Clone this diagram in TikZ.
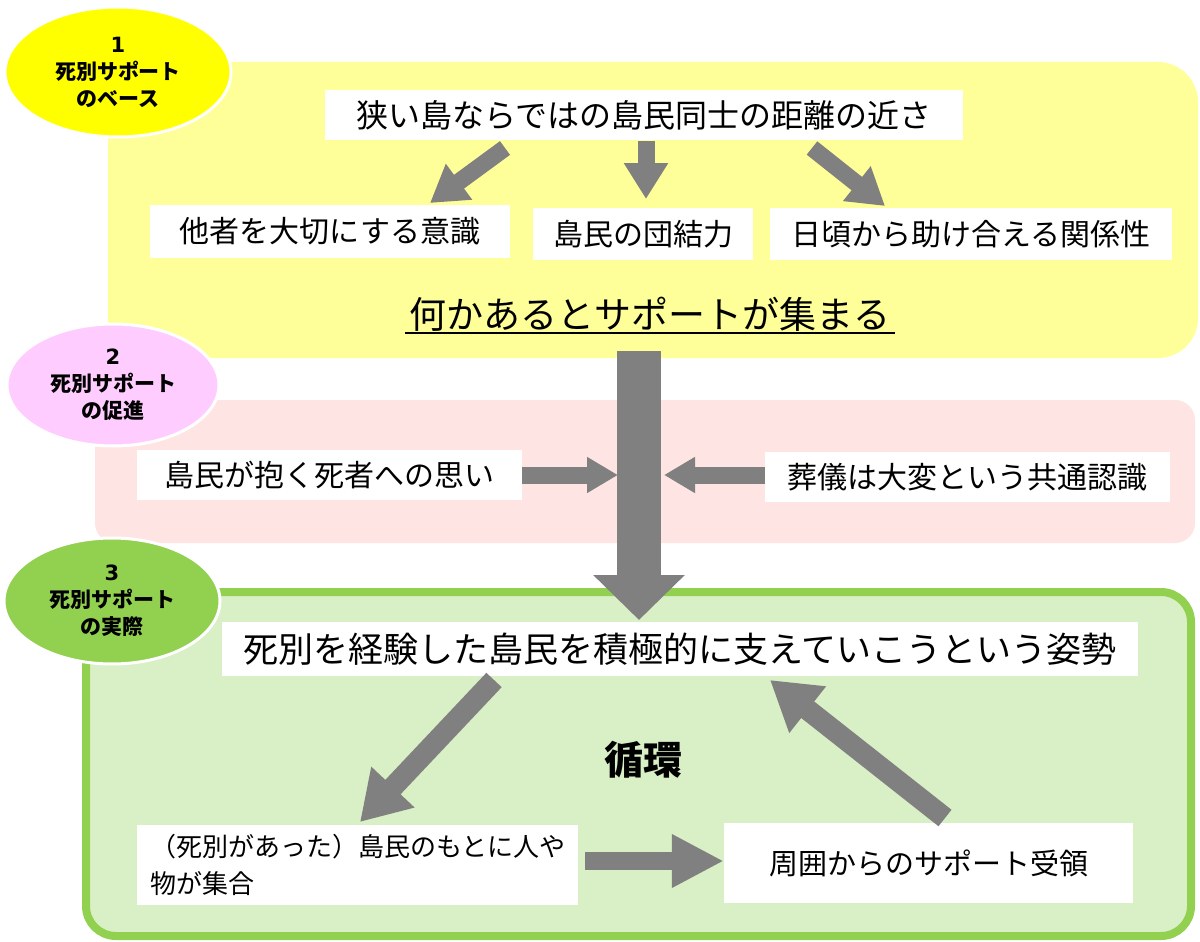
\documentclass[tikz,border=0pt]{standalone}
\usepackage{fontspec}
\setmainfont{Noto Sans CJK JP}
\newfontfamily\numfont{DejaVu Sans}
\usetikzlibrary{arrows.meta,shapes.geometric}
\definecolor{ybg}{HTML}{FFFF99}
\definecolor{yell}{HTML}{FFFF00}
\definecolor{pbg}{HTML}{FFE4E4}
\definecolor{pell}{HTML}{FFCCFF}
\definecolor{gbg}{HTML}{D9EFC6}
\definecolor{gline}{HTML}{92D050}
\definecolor{agray}{HTML}{808080}
\tikzset{
  wbox/.style={fill=white, draw=none, inner sep=0pt, align=center},
  tag/.style={ellipse, draw=white, line width=3pt, inner sep=0pt, align=center,
    font=\fontsize{21}{27}\selectfont\bfseries},
  garrow/.style={draw=agray, line width=17pt, -{Triangle[width=42pt,length=36pt]}},
  barrow/.style={draw=agray, line width=21pt, -{Triangle[width=56pt,length=48pt]}},
  harrow/.style={draw=agray, line width=17pt, -{Triangle[width=34pt,length=31pt]}},
}
\begin{document}
\begin{tikzpicture}[x=1pt,y=-1pt]
\useasboundingbox (0,0) rectangle (1200,942);
\fill[white] (0,0) rectangle (1200,942);
% panels
\fill[ybg, rounded corners=40pt] (108,62) rectangle (1198,358);
\fill[pbg, rounded corners=20pt] (95,400) rectangle (1195,543);
\draw[gline, fill=gbg, line width=8pt, rounded corners=30pt] (86,592) rectangle (1191,936);
% tags
\node[tag, fill=yell, minimum width=226pt, minimum height=130pt] (t1) at (118,72)
  {{\numfont\bfseries 1}\\死別サポート\\のベース};
\node[tag, fill=pell, minimum width=212pt, minimum height=122pt] (t2) at (113,385)
  {{\numfont\bfseries 2}\\死別サポート\\の促進};
\node[tag, fill=gline, minimum width=216pt, minimum height=126pt] (t3) at (112,601)
  {{\numfont\bfseries 3}\\死別サポート\\の実際};
% section 1
\node[wbox, minimum width=638pt, minimum height=50pt, font=\fontsize{32}{36}\selectfont] (top) at (644,115) {狭い島ならではの島民同士の距離の近さ};
\node[wbox, minimum width=360pt, minimum height=53pt, font=\fontsize{30}{34}\selectfont] (b1) at (330,231) {他者を大切にする意識};
\node[wbox, minimum width=220pt, minimum height=52pt, font=\fontsize{30}{34}\selectfont] (b2) at (643,234) {島民の団結力};
\node[wbox, minimum width=402pt, minimum height=52pt, font=\fontsize{30}{34}\selectfont] (b3) at (971,234) {日頃から助け合える関係性};
\node[inner sep=0pt, font=\fontsize{37}{40}\selectfont] (key) at (650,314) {何かあるとサポートが集まる};
\draw[black, line width=2.5pt] (405,333) -- (895,333);
\coordinate (a1s) at (505,148); \coordinate (a1e) at (430,203);
\coordinate (a2s) at (646,141); \coordinate (a2e) at (646,199);
\coordinate (a3s) at (812,148); \coordinate (a3e) at (885,206);
\draw[garrow] (a1s) -- (a1e);
\draw[garrow] (a2s) -- (a2e);
\draw[garrow] (a3s) -- (a3e);
% section 2
\node[wbox, minimum width=385pt, minimum height=50pt, font=\fontsize{30}{34}\selectfont] (p1) at (329.5,475) {島民が抱く死者への思い};
\node[wbox, minimum width=405pt, minimum height=50pt, font=\fontsize{30}{34}\selectfont] (p2) at (967.5,477) {葬儀は大変という共通認識};
% section 3
\node[wbox, minimum width=916pt, minimum height=54pt, font=\fontsize{35}{38}\selectfont] (g1) at (680,649) {死別を経験した島民を積極的に支えていこうという姿勢};
\node[inner sep=0pt, font=\fontsize{39}{42}\selectfont\bfseries] (cyc) at (643,760) {循環};
\node[wbox, align=left, text width=415pt, inner xsep=13pt, minimum height=80pt, font=\fontsize{26}{37}\selectfont] (g2) at (357.5,865) {（死別があった）島民のもとに人や\\物が集合};
\node[wbox, minimum width=409pt, minimum height=80pt, font=\fontsize{29}{34}\selectfont] (g3) at (928.5,863) {周囲からのサポート受領};
% big arrow and side arrows
\coordinate (vs) at (639,351); \coordinate (ve) at (639,620);
\draw[draw=agray, line width=44pt, -{Triangle[width=89pt,length=45pt]}] (vs) -- (ve);
\draw[harrow] (p1.east) -- (618,475);
\draw[harrow] (p2.west |- 0,475) -- (664,475);
\coordinate (c1s) at (494,680); \coordinate (c1e) at (360,822);
\coordinate (c2s) at (945,818); \coordinate (c2e) at (770,680);
\draw[barrow] (c1s) -- (c1e);
\draw[barrow] (c2s) -- (c2e);
\draw[draw=agray, line width=18pt, shorten <=7pt, -{Triangle[width=50pt,length=52pt]}] (g2.east |- 0,861) -- (g3.west |- 0,861);
\end{tikzpicture}
\end{document}
